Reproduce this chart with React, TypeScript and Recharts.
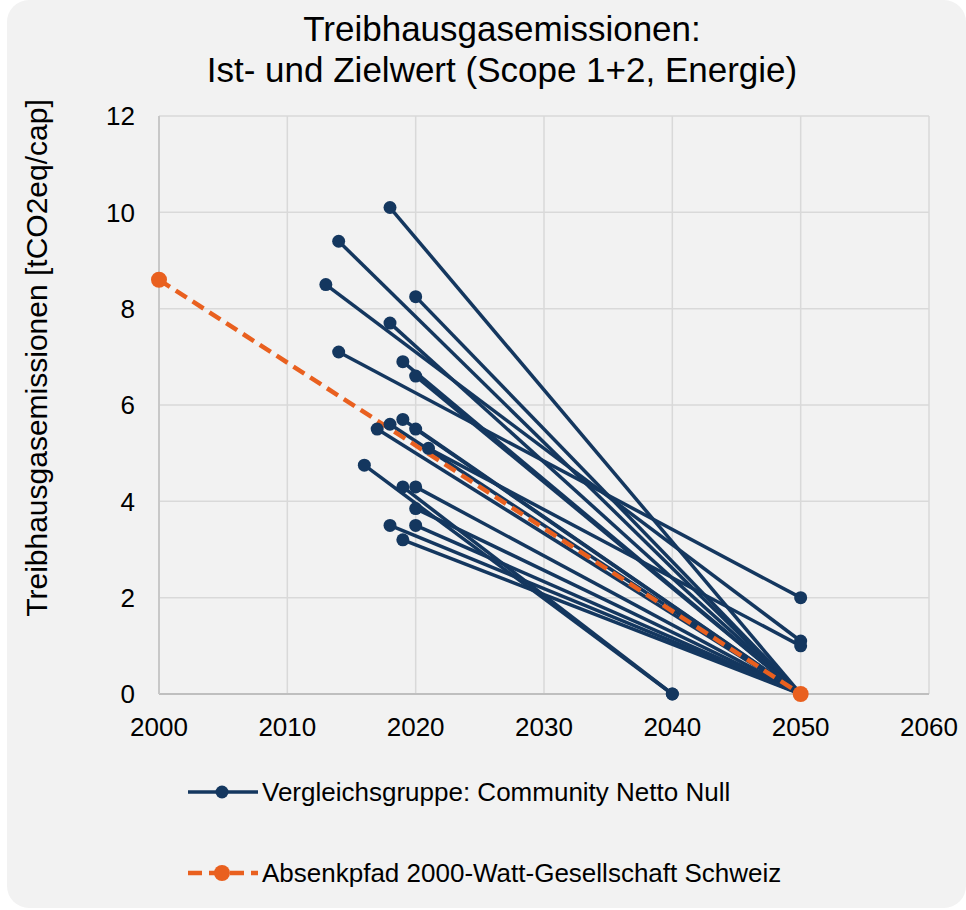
import { CartesianGrid, Line, LineChart, XAxis, YAxis } from "recharts";

// Vergleichsgruppe: Ist-Wert (Jahr, Wert) -> Zielwert (Jahr, Wert)
const startYears = [2018, 2014, 2013, 2020, 2018, 2014, 2019, 2020, 2019, 2018, 2017, 2020, 2021, 2016, 2019, 2020, 2020, 2018, 2020, 2019];
const startValues = [10.1, 9.4, 8.5, 8.25, 7.7, 7.1, 6.9, 6.6, 5.7, 5.6, 5.5, 5.5, 5.1, 4.75, 4.3, 4.3, 3.85, 3.5, 3.5, 3.2];
const targetYears = [2050, 2050, 2050, 2050, 2050, 2050, 2050, 2050, 2050, 2050, 2050, 2050, 2050, 2040, 2040, 2050, 2050, 2050, 2050, 2050];
const targetValues = [0, 0, 1.1, 0, 0, 2.0, 0, 0, 0, 0, 0, 0, 1.0, 0, 0, 0, 0, 0, 0, 0];

// Absenkpfad 2000-Watt-Gesellschaft
const pathYears = [2000, 2050];
const pathValues = [8.6, 0];

const xTicks = [2000, 2010, 2020, 2030, 2040, 2050, 2060];
const yTicks = [0, 2, 4, 6, 8, 10, 12];

const NAVY = "#14375f";
const ORANGE = "#e9601f";
const FONT = "'Liberation Sans', Arial, sans-serif";

const peerLines = startYears.map((year, i) => [
  { x: year, v: startValues[i] },
  { x: targetYears[i], v: targetValues[i] },
]);
const pathLine = pathYears.map((year, i) => ({ x: year, v: pathValues[i] }));

function LegendRow({ top, dashed, label }: { top: number; dashed: boolean; label: string }) {
  const color = dashed ? ORANGE : NAVY;
  return (
    <div
      style={{
        position: "absolute",
        left: 188,
        top: top - 15,
        height: 30,
        display: "flex",
        alignItems: "center",
        whiteSpace: "nowrap",
      }}
    >
      <svg width={74} height={30}>
        <line
          x1={0}
          x2={70}
          y1={15}
          y2={15}
          stroke={color}
          strokeWidth={dashed ? 4.5 : 3.5}
          strokeDasharray={dashed ? "14 7" : undefined}
        />
        <circle cx={34} cy={15} r={dashed ? 8 : 6.5} fill={color} />
      </svg>
      <span style={{ fontSize: 26, color: "#000" }}>{label}</span>
    </div>
  );
}

export default function App() {
  return (
    <div
      style={{
        position: "fixed",
        left: 0,
        top: 0,
        width: 966,
        height: 910,
        background: "#fff",
        fontFamily: FONT,
        overflow: "hidden",
      }}
    >
      <div
        style={{
          position: "absolute",
          left: 7,
          top: 0,
          width: 959,
          height: 908,
          background: "#f2f2f2",
          borderRadius: 22,
        }}
      />
      <div
        style={{
          position: "absolute",
          left: 0,
          top: 8,
          width: 1004,
          textAlign: "center",
          fontSize: 35,
          lineHeight: "41px",
          color: "#000",
        }}
      >
        Treibhausgasemissionen:
        <br />
        Ist- und Zielwert (Scope 1+2, Energie)
      </div>
      <div
        style={{
          position: "absolute",
          left: 37,
          top: 358,
          transform: "translate(-50%, -50%) rotate(-90deg)",
          whiteSpace: "nowrap",
          fontSize: 30,
          color: "#000",
        }}
      >
        Treibhausgasemissionen [tCO2eq/cap]
      </div>
      <div style={{ position: "absolute", left: 0, top: 0 }}>
        <LineChart
          width={966}
          height={910}
          margin={{ top: 116, right: 37, left: 0, bottom: 176 }}
          style={{ fontFamily: FONT }}
        >
          <CartesianGrid stroke="#d9d9d9" strokeWidth={1.5} />
          <XAxis
            type="number"
            dataKey="x"
            domain={[2000, 2060]}
            ticks={xTicks}
            height={40}
            tickSize={0}
            tickMargin={24}
            axisLine={{ stroke: "#bfbfbf", strokeWidth: 2 }}
            tick={{ fontSize: 26, fill: "#000" }}
          />
          <YAxis
            type="number"
            domain={[0, 12]}
            ticks={yTicks}
            width={159}
            tickSize={0}
            tickMargin={24}
            axisLine={{ stroke: "#c8c8c8", strokeWidth: 2 }}
            tick={{ fontSize: 26, fill: "#000" }}
          />
          {peerLines.map((pts, i) => (
            <Line
              key={i}
              data={pts}
              dataKey="v"
              type="linear"
              stroke={NAVY}
              strokeWidth={3.5}
              dot={{ r: 6.5, fill: NAVY, stroke: NAVY, strokeWidth: 0 }}
              activeDot={false}
              isAnimationActive={false}
            />
          ))}
          <Line
            data={pathLine}
            dataKey="v"
            type="linear"
            stroke={ORANGE}
            strokeWidth={4.5}
            strokeDasharray="13 7"
            dot={{ r: 8, fill: ORANGE, stroke: ORANGE, strokeWidth: 0 }}
            activeDot={false}
            isAnimationActive={false}
          />
        </LineChart>
      </div>
      <LegendRow top={792} dashed={false} label="Vergleichsgruppe: Community Netto Null" />
      <LegendRow top={873} dashed={true} label="Absenkpfad 2000-Watt-Gesellschaft Schweiz" />
    </div>
  );
}
